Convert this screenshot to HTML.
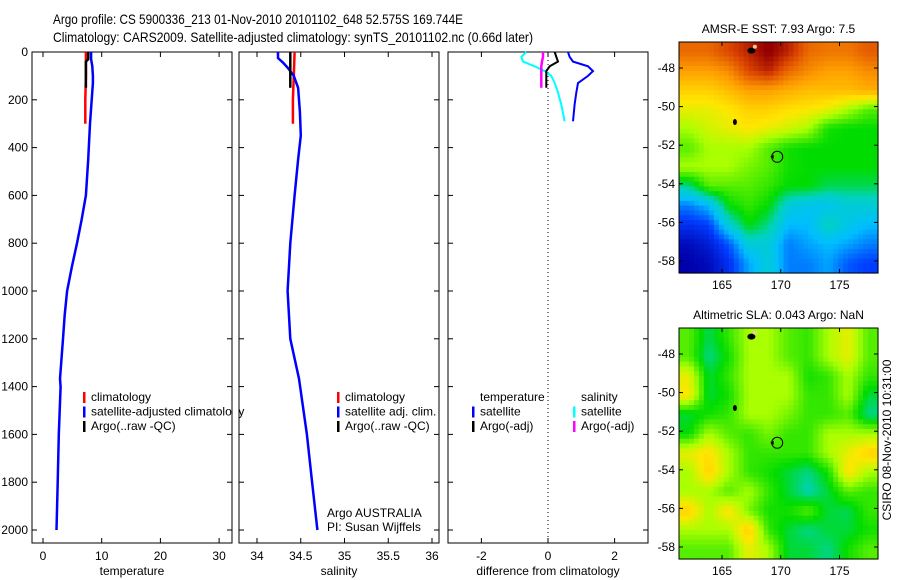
<!DOCTYPE html>
<html><head><meta charset="utf-8"><style>
body{margin:0;background:#fff;}
svg{display:block;font-family:"Liberation Sans",sans-serif;}
text{font-size:12px;fill:#000;}
</style></head><body>
<svg id="fig" width="900" height="580" viewBox="0 0 900 580">
<text x="53" y="24" style="font-size:14px" textLength="410" lengthAdjust="spacingAndGlyphs">Argo profile: CS 5900336_213 01-Nov-2010 20101102_648 52.575S 169.744E</text>
<text x="53" y="42" style="font-size:14px" textLength="480" lengthAdjust="spacingAndGlyphs">Climatology: CARS2009. Satellite-adjusted climatology: synTS_20101102.nc (0.66d later)</text>
<g id="plots"></g>
<text transform="translate(891,440) rotate(-90)" text-anchor="middle">CSIRO 08-Nov-2010 10:31:00</text>
</svg>
<script>
// ---------- profile data (depth m, value) ----------
const tempDepth=[0,30,60,100,130,200,300,450,600,700,800,900,1000,1100,1200,1367,1400,1600,1800,2000];
const tempSat=[8.2,8.2,8.4,8.5,8.5,8.3,8.0,7.7,7.3,6.6,5.8,4.9,4.1,3.7,3.4,2.9,3.0,2.7,2.5,2.3];
const tempClimDepth=[0,100,200,300];
const tempClim=[7.3,7.3,7.2,7.2];
const tempArgoDepth=[0,30,40,150];
const tempArgo=[7.7,7.7,7.3,7.3];
const salDepth=[0,25,45,70,100,150,250,350,450,600,800,1000,1200,1367,1600,1800,2000];
const salSat=[34.24,34.24,34.30,34.36,34.42,34.47,34.49,34.50,34.47,34.43,34.38,34.35,34.38,34.48,34.57,34.63,34.69];
const salClimDepth=[0,100,200,300];
const salClim=[34.43,34.42,34.41,34.41];
const salArgoDepth=[0,150];
const salArgo=[34.38,34.38];
const diffDepth=[0,20,40,60,80,100,130,170,220,290];
const diffTempSat=[0.6,0.65,0.75,1.2,1.35,1.2,0.9,0.85,0.8,0.75];
const diffSalSat=[-0.65,-0.8,-0.75,-0.4,-0.1,0.1,0.2,0.3,0.4,0.5];
const diffArgoDepth=[0,20,40,60,80,150];
const diffTempArgo=[0.2,0.25,0.3,0.05,-0.05,-0.05];
const diffSalArgo=[-0.15,-0.15,-0.18,-0.2,-0.2,-0.2];
const depthTicks=[0,200,400,600,800,1000,1200,1400,1600,1800,2000];
const tempTicks=[0,10,20,30];
const salTicks=[34,34.5,35,35.5,36];
const salTickLabels=["34","34.5","35","35.5","36"];
const diffTicks=[-2,0,2];
// ---------- map data (colormap index 0..1) ----------
const sstGrid=[
[.80,.80,.85,.90,.96,.90,.80,.78,.78,.82],
[.72,.72,.75,.85,.90,.80,.75,.72,.72,.75],
[.65,.65,.68,.72,.72,.70,.68,.68,.68,.70],
[.60,.60,.62,.65,.65,.63,.62,.60,.55,.50],
[.55,.58,.60,.62,.60,.58,.55,.46,.45,.45],
[.50,.55,.55,.55,.50,.46,.45,.45,.45,.45],
[.55,.55,.55,.52,.50,.46,.45,.45,.45,.45],
[.40,.50,.50,.50,.48,.45,.45,.42,.42,.42],
[.25,.30,.45,.48,.45,.35,.32,.32,.35,.35],
[.18,.20,.35,.45,.40,.30,.30,.38,.33,.30],
[.12,.15,.22,.35,.35,.25,.28,.30,.28,.25],
[.10,.12,.18,.28,.35,.25,.25,.28,.22,.20]];
const slaGrid=[
[.50,.42,.48,.55,.55,.50,.48,.55,.60,.50],
[.50,.40,.46,.55,.55,.50,.48,.55,.60,.50],
[.60,.43,.48,.55,.55,.55,.46,.48,.55,.48],
[.62,.43,.46,.55,.55,.55,.48,.48,.55,.43],
[.43,.46,.48,.55,.55,.52,.48,.48,.50,.40],
[.45,.55,.50,.48,.52,.48,.48,.55,.55,.55],
[.60,.63,.55,.48,.48,.48,.48,.55,.60,.65],
[.55,.65,.55,.48,.46,.43,.40,.46,.63,.55],
[.55,.55,.50,.55,.48,.43,.38,.43,.50,.48],
[.65,.55,.63,.52,.46,.46,.50,.43,.42,.48],
[.55,.55,.55,.66,.48,.43,.40,.43,.43,.46],
[.50,.50,.50,.60,.55,.43,.43,.40,.46,.50]];
const lonTicks=[165,170,175];
const latTicks=[-48,-50,-52,-54,-56,-58];
const floatLon=169.7, floatLat=-52.6;

const NS="http://www.w3.org/2000/svg";
const root=document.getElementById('plots');
function mk(tag,attrs,parent){const e=document.createElementNS(NS,tag);for(const k in attrs)e.setAttribute(k,attrs[k]);(parent||root).appendChild(e);return e;}
const yTop=52, yBot=543;
const yD=d=>yTop+d*0.239;

function axesBox(x0,x1,name){
  const g=mk('g',{});
  
  
  const r=mk('rect',{x:x0,y:yTop,width:x1-x0,height:yBot-yTop,fill:'none',stroke:'#000','stroke-width':1},g);
  
  
  depthTicks.forEach(d=>{
    mk('line',{x1:x0,x2:x0+5,y1:yD(d),y2:yD(d),stroke:'#000'},g);
    mk('line',{x1:x1,x2:x1-5,y1:yD(d),y2:yD(d),stroke:'#000'},g);
  });
  return g;
}
function xTicks(g,ticks,labels,fx){
  ticks.forEach((t,i)=>{
    const x=fx(t);
    mk('line',{x1:x,x2:x,y1:yTop,y2:yTop+5,stroke:'#000'},g);
    mk('line',{x1:x,x2:x,y1:yBot,y2:yBot-5,stroke:'#000'},g);
    const tx=mk('text',{x:x,y:560,'text-anchor':'middle'},g);tx.textContent=labels[i];
    
    
  });
}
function line(g,xs,ds,fx,color,name,w){
  const pts=xs.map((v,i)=>fx(v).toFixed(1)+','+yD(ds[i]).toFixed(1)).join(' ');
  const p=mk('polyline',{points:pts,fill:'none',stroke:color,'stroke-width':w||2.5},g);
  
  
}
function legend(g,x,y,items){
  items.forEach((it,i)=>{
    if(it[1]){mk('rect',{x:x,y:y+i*14.5-9,width:2.5,height:11,fill:it[1]},g);}
    const t=mk('text',{x:x+8,y:y+i*14.5},g);t.textContent=it[0];
    
    
  });
}
depthTicks.forEach(d=>{const t=mk('text',{x:28,y:yD(d)+4,'text-anchor':'end'});t.textContent=d;
  
  });

// panel 1 temperature
const fT=v=>43+v*5.87;
let g1=axesBox(32,232,'temperature-panel');
xTicks(g1,tempTicks,tempTicks.map(String),fT);
line(g1,tempClim,tempClimDepth,fT,'#ff0000','temp-climatology-line');
line(g1,tempSat,tempDepth,fT,'#0000ff','temp-satellite-line');
line(g1,tempArgo,tempArgoDepth,fT,'#000000','temp-argo-line');
legend(g1,83,401,[['climatology','#ff0000'],['satellite-adjusted climatology','#0000ff'],['Argo(..raw -QC)','#000']]);
let t1=mk('text',{x:132,y:575,'text-anchor':'middle'},g1);t1.textContent='temperature';

mk('rect',{x:232.5,y:380,width:6,height:60,fill:'#fff'});
mk('line',{x1:232,x2:232,y1:380,y2:440,stroke:'#000'});

// panel 2 salinity
const fS=v=>257+(v-34)*87.5;
let g2=axesBox(239,439,'salinity-panel');
xTicks(g2,salTicks,salTickLabels,fS);
line(g2,salClim,salClimDepth,fS,'#ff0000','sal-climatology-line');
line(g2,salSat,salDepth,fS,'#0000ff','sal-satellite-line');
line(g2,salArgo,salArgoDepth,fS,'#000000','sal-argo-line');
legend(g2,337,401,[['climatology','#ff0000'],['satellite adj. clim.','#0000ff'],['Argo(..raw -QC)','#000']]);
let a1=mk('text',{x:327,y:517},g2);a1.textContent='Argo AUSTRALIA';

let a2=mk('text',{x:327,y:531},g2);a2.textContent='PI: Susan Wijffels';

let t2=mk('text',{x:339,y:575,'text-anchor':'middle'},g2);t2.textContent='salinity';


// panel 3 difference
const fD=v=>548+v*33.3;
let g3=axesBox(448,648,'difference-panel');
xTicks(g3,diffTicks,diffTicks.map(String),fD);
mk('line',{x1:fD(0),x2:fD(0),y1:yTop,y2:yBot,stroke:'#000','stroke-dasharray':'1,3'},g3);
line(g3,diffTempSat,diffDepth,fD,'#0000ff','diff-temp-satellite-line',2);
line(g3,diffSalSat,diffDepth,fD,'#00ffff','diff-sal-satellite-line',2);
line(g3,diffSalArgo,diffArgoDepth,fD,'#ff00ff','diff-sal-argo-line',2.5);
line(g3,diffTempArgo,diffArgoDepth,fD,'#000000','diff-temp-argo-line',2);
legend(g3,472,401,[['temperature',null],['satellite','#0000ff'],['Argo(-adj)','#000']]);
legend(g3,573,401,[['salinity',null],['satellite','#00ffff'],['Argo(-adj)','#ff00ff']]);
let t3=mk('text',{x:548,y:575,'text-anchor':'middle'},g3);t3.textContent='difference from climatology';


// ---------- maps ----------
const cmapStops=[[0,[0,0,120]],[0.1,[0,0,170]],[0.2,[0,60,255]],[0.3,[0,190,255]],[0.38,[0,210,190]],[0.45,[0,220,0]],[0.55,[170,255,0]],[0.62,[255,230,0]],[0.72,[255,160,0]],[0.85,[220,70,0]],[0.95,[150,0,0]],[1,[120,0,0]]];
function cmap(v){
  v=Math.max(0,Math.min(1,v));
  for(let i=1;i<cmapStops.length;i++){
    const a=cmapStops[i-1],b=cmapStops[i];
    if(v<=b[0]){const t=(v-a[0])/(b[0]-a[0]);
      return 'rgb('+a[1].map((c,k)=>Math.round(c+(b[1][k]-c)*t)).join(',')+')';}
  }
  return 'rgb(120,0,0)';
}
function sample(grid,fi,fj){
  const R=grid.length,C=grid[0].length;
  fi=Math.max(0,Math.min(R-1,fi));fj=Math.max(0,Math.min(C-1,fj));
  const i0=Math.floor(fi),j0=Math.floor(fj),i1=Math.min(R-1,i0+1),j1=Math.min(C-1,j0+1);
  const ti=fi-i0,tj=fj-j0;
  return (grid[i0][j0]*(1-tj)+grid[i0][j1]*tj)*(1-ti)+(grid[i1][j0]*(1-tj)+grid[i1][j1]*tj)*ti;
}
function drawMap(top,grid,title,name){
  const left=679,right=878,bottom=top+231;
  const fx=lon=>722+(lon-165)*11.75;
  const fy=lat=>top+26+(-48-lat)*19.3;
  const g=mk('g',{});
  
  
  const rows=grid.length, cols=grid[0].length, sub=4;
  const cw=(right-left)/(cols*sub), ch=(bottom-top)/(rows*sub);
  for(let i=0;i<rows*sub;i++)for(let j=0;j<cols*sub;j++){
    const v=sample(grid,(i+0.5)/sub-0.5,(j+0.5)/sub-0.5);
    const r=mk('rect',{x:(left+j*cw).toFixed(2),y:(top+i*ch).toFixed(2),width:(cw+0.6).toFixed(2),height:(ch+0.6).toFixed(2),fill:cmap(v)},g);
    
    
  }
  mk('ellipse',{cx:fx(167.5),cy:fy(-47.1),rx:4,ry:3,fill:'#000'},g);
  mk('ellipse',{cx:fx(167.8),cy:fy(-46.9),rx:2,ry:2,fill:'#f5c8a0'},g);
  mk('ellipse',{cx:fx(166.1),cy:fy(-50.8),rx:2,ry:3,fill:'#000'},g);
  mk('polygon',{points:(fx(169.1))+','+fy(-52.6)+' '+(fx(169.4))+','+(fy(-52.6)-2)+' '+(fx(169.4))+','+(fy(-52.6)+2),fill:'#000'},g);
  const c=mk('circle',{cx:fx(floatLon),cy:fy(floatLat),r:5.5,fill:'none',stroke:'#000','stroke-width':1},g);
  
  
  mk('rect',{x:left,y:top,width:right-left,height:bottom-top,fill:'none',stroke:'#000'},g);
  lonTicks.forEach(l=>{const x=fx(l);
    mk('line',{x1:x,x2:x,y1:top,y2:top+4,stroke:'#000'},g);
    mk('line',{x1:x,x2:x,y1:bottom,y2:bottom-4,stroke:'#000'},g);
    const t=mk('text',{x:x,y:bottom+16,'text-anchor':'middle'},g);t.textContent=l;
    });
  latTicks.forEach(l=>{const y=fy(l);
    mk('line',{x1:left,x2:left+4,y1:y,y2:y,stroke:'#000'},g);
    mk('line',{x1:right,x2:right-4,y1:y,y2:y,stroke:'#000'},g);
    const t=mk('text',{x:left-4,y:y+4,'text-anchor':'end'},g);t.textContent=l;
    });
  const tt=mk('text',{x:(left+right)/2,y:top-9,'text-anchor':'middle'},g);tt.textContent=title;
  
}
drawMap(42,sstGrid,'AMSR-E SST: 7.93 Argo: 7.5','sst-map');
drawMap(328,slaGrid,'Altimetric SLA: 0.043 Argo: NaN','sla-map');
</script>
</body></html>
